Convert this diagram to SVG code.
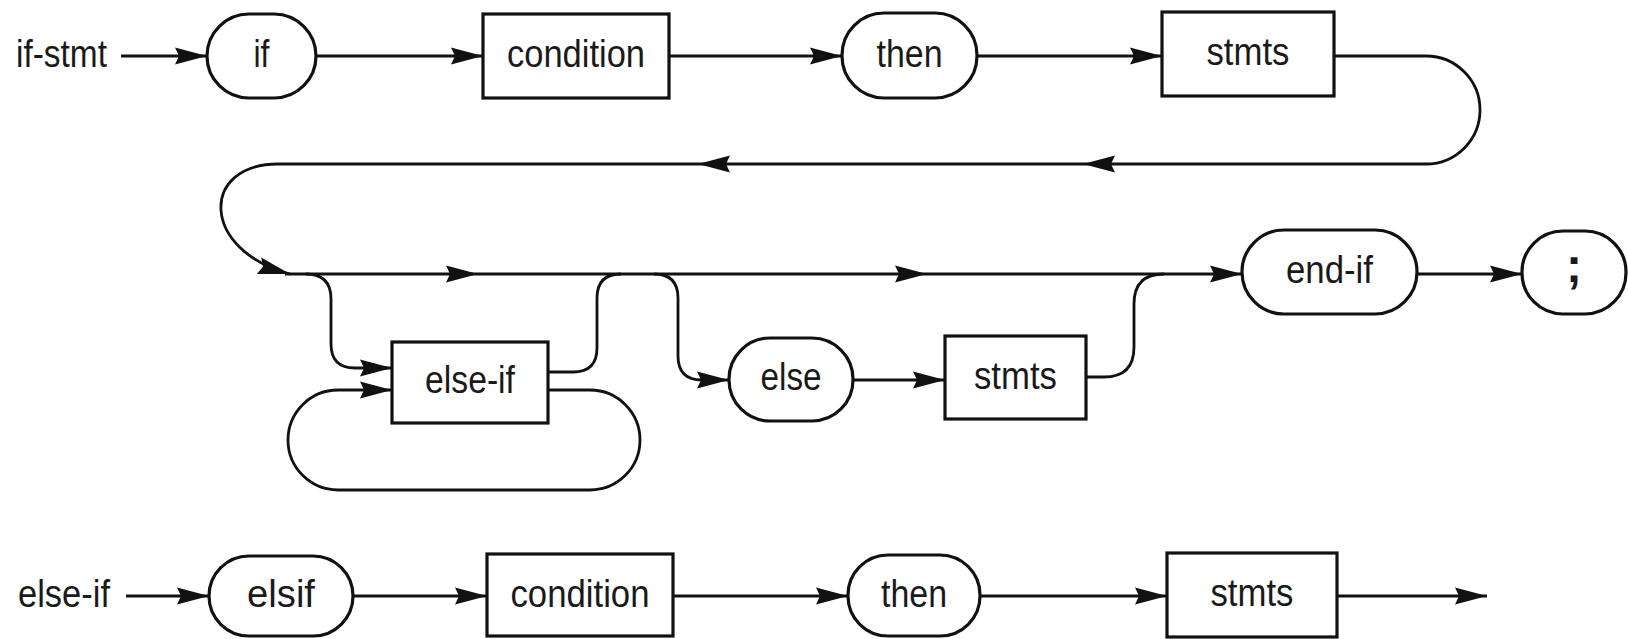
<svg xmlns="http://www.w3.org/2000/svg" width="1628" height="639" viewBox="0 0 1628 639">
<defs>
<style>
.n{fill:#fff;stroke:#111;stroke-width:3.2}
.c{fill:none;stroke:#111;stroke-width:2.8}
.t{font-family:"Liberation Sans",Arial,Helvetica,sans-serif;font-size:38px;fill:#1a1a1a;text-anchor:middle}
.l{text-anchor:start}
</style>
<marker id="ah" markerWidth="32" markerHeight="18" refX="32" refY="9" orient="auto" markerUnits="userSpaceOnUse">
<path d="M0,0.5 L32,9 L0,17.5 L4,9 z" fill="#111"/>
</marker>
</defs>
<rect width="1628" height="639" fill="#fff"/>

<g id="connectors" class="c">
<!-- row 1 -->
<path d="M121,56 L207,56" marker-end="url(#ah)"/>
<path d="M316,56 L483,56" marker-end="url(#ah)"/>
<path d="M669,56 L842,56" marker-end="url(#ah)"/>
<path d="M977,56 L1162,56" marker-end="url(#ah)"/>
<path d="M1334,56 L1426,56 A54,54 0 0 1 1426,164 L1083,164" marker-end="url(#ah)"/>
<path d="M1083,164 L698,164" marker-end="url(#ah)"/>
<path d="M698,164 L278,164 C200,164 200,250 290,274" marker-end="url(#ah)"/>
<!-- row 2 main line -->
<path d="M285,274 L478,274" marker-end="url(#ah)"/>
<path d="M478,274 L927,274" marker-end="url(#ah)"/>
<path d="M927,274 L1242,274" marker-end="url(#ah)"/>
<!-- to else-if -->
<path d="M306,274 Q331,274 331,299 L331,344 Q331,368 355,368 L392,368" marker-end="url(#ah)"/>
<!-- else-if exit back to main -->
<path d="M548,372 L573,372 Q597,372 597,348 L597,298 Q597,274 621,274"/>
<!-- loop -->
<path d="M548,390 L590,390 A50,50 0 0 1 590,490 L338,490 A50,50 0 0 1 338,390 L392,390" marker-end="url(#ah)"/>
<!-- else branch -->
<path d="M654,274 Q678,274 678,298 L678,356 Q678,380 702,380 L729,380" marker-end="url(#ah)"/>
<path d="M853,380 L945,380" marker-end="url(#ah)"/>
<path d="M1086,377 L1104,377 Q1134,377 1134,347 L1134,304 Q1134,274 1164,274"/>
<path d="M1417,274 L1522,274" marker-end="url(#ah)"/>
<!-- row 3 -->
<path d="M126,596 L209,596" marker-end="url(#ah)"/>
<path d="M353,596 L487,596" marker-end="url(#ah)"/>
<path d="M673,596 L848,596" marker-end="url(#ah)"/>
<path d="M980,596 L1167,596" marker-end="url(#ah)"/>
<path d="M1337,596 L1487,596" marker-end="url(#ah)"/>
</g>

<g id="label-if-stmt"><text class="t l" x="16" y="67" textLength="91" lengthAdjust="spacingAndGlyphs">if-stmt</text></g>
<g id="node-if"><rect class="n" x="207" y="14" width="109" height="84" rx="42"/><text class="t" x="261.5" y="67" textLength="16" lengthAdjust="spacingAndGlyphs">if</text></g>
<g id="node-condition1"><rect class="n" x="483" y="14" width="186" height="84"/><text class="t" x="576" y="67" textLength="138" lengthAdjust="spacingAndGlyphs">condition</text></g>
<g id="node-then1"><rect class="n" x="842" y="13" width="135" height="85" rx="42"/><text class="t" x="909.5" y="67" textLength="66" lengthAdjust="spacingAndGlyphs">then</text></g>
<g id="node-stmts1"><rect class="n" x="1162" y="12" width="172" height="84"/><text class="t" x="1248" y="65" textLength="83" lengthAdjust="spacingAndGlyphs">stmts</text></g>

<g id="node-else-if"><rect class="n" x="392" y="342" width="156" height="81"/><text class="t" x="470" y="393" textLength="90" lengthAdjust="spacingAndGlyphs">else-if</text></g>
<g id="node-else"><rect class="n" x="729" y="338" width="124" height="83" rx="41"/><text class="t" x="791" y="390" textLength="61" lengthAdjust="spacingAndGlyphs">else</text></g>
<g id="node-stmts2"><rect class="n" x="945" y="336" width="141" height="83"/><text class="t" x="1015.5" y="389" textLength="83" lengthAdjust="spacingAndGlyphs">stmts</text></g>
<g id="node-end-if"><rect class="n" x="1242" y="230" width="175" height="84" rx="42"/><text class="t" x="1329.5" y="283" textLength="87" lengthAdjust="spacingAndGlyphs">end-if</text></g>
<g id="node-semicolon"><rect class="n" x="1522" y="231" width="104" height="83" rx="41"/><text class="t" x="1574" y="282" style="font-size:48px;font-weight:bold">;</text></g>

<g id="label-else-if"><text class="t l" x="18" y="607" textLength="92" lengthAdjust="spacingAndGlyphs">else-if</text></g>
<g id="node-elsif"><rect class="n" x="209" y="556" width="144" height="80" rx="40"/><text class="t" x="281" y="607" textLength="68" lengthAdjust="spacingAndGlyphs">elsif</text></g>
<g id="node-condition2"><rect class="n" x="487" y="554" width="186" height="82"/><text class="t" x="580" y="607" textLength="139" lengthAdjust="spacingAndGlyphs">condition</text></g>
<g id="node-then2"><rect class="n" x="848" y="555" width="132" height="81" rx="40"/><text class="t" x="914" y="607" textLength="66" lengthAdjust="spacingAndGlyphs">then</text></g>
<g id="node-stmts3"><rect class="n" x="1167" y="553" width="170" height="84"/><text class="t" x="1252" y="606" textLength="83" lengthAdjust="spacingAndGlyphs">stmts</text></g>
</svg>
